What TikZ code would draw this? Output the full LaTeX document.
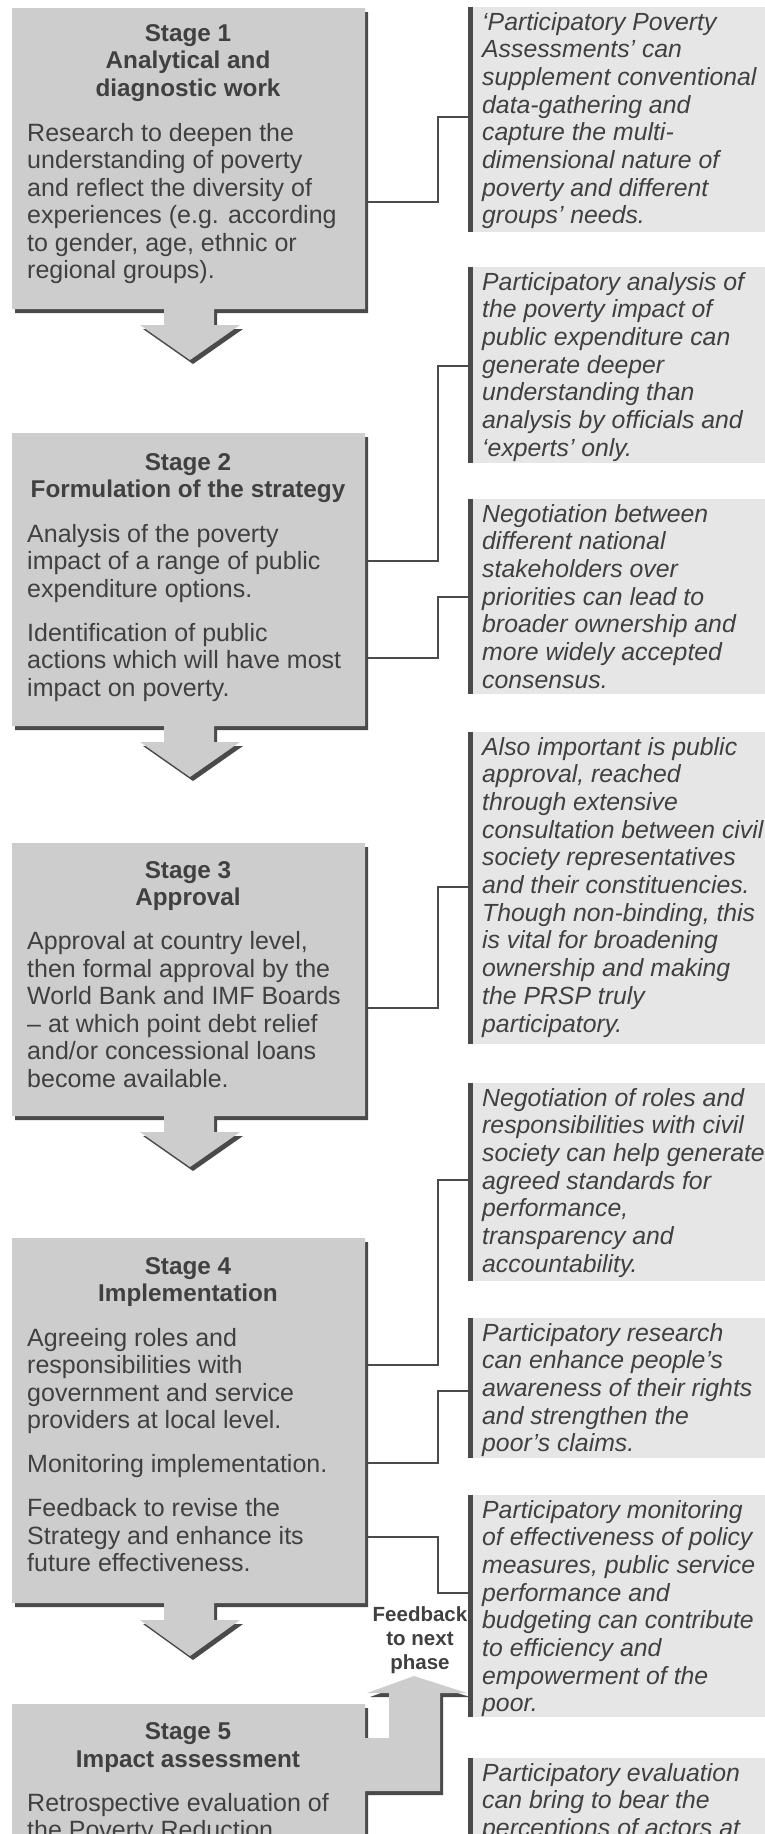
\documentclass[tikz,border=0pt]{standalone}
\usepackage{fontspec}
\setmainfont{Liberation Sans}
\definecolor{stagefill}{HTML}{CDCDCD}
\definecolor{notefill}{HTML}{E6E6E6}
\definecolor{shade}{HTML}{4A4A4A}
\definecolor{ink}{HTML}{404040}
\tikzset{
  stageshape/.style={fill=stagefill, preaction={fill=shade, transform canvas={shift={(3pt,-4pt)}}}},
  stagetitle/.style={font=\bfseries\fontsize{24.3}{27.5}\selectfont, text=ink, align=center, inner sep=0pt, anchor=base},
  stagebody/.style={font=\fontsize{25}{27.5}\selectfont, text=ink, align=left, inner sep=0pt, anchor=base west},
  notetext/.style={font=\itshape\fontsize{24.8}{27.7}\selectfont, text=ink, align=left, inner sep=0pt, anchor=base west},
  fbtext/.style={font=\bfseries\fontsize{20.5}{24}\selectfont, text=ink, align=center, inner sep=0pt, anchor=base},
  notebar/.style={fill=shade, draw=none, inner sep=0pt, minimum width=5pt, anchor=north west},
  notebg/.style={fill=notefill, draw=none, inner sep=0pt, minimum width=292pt, anchor=north west},
  conn/.style={draw=shade, line width=2.3pt},
}
\begin{document}
\begin{tikzpicture}[x=1pt,y=-1pt]
\useasboundingbox (0,0) rectangle (765,1834);
\begin{scope}
\clip (0,0) rectangle (765,1834);
\fill[white] (0,0) rectangle (765,1834);

% ---------- stage shapes (box + arrow) ----------
\path[stageshape] (12,8) -- (365,8) -- (365,309) -- (214,309) -- (214,325) -- (240,325) -- (190,360) -- (140,325) -- (164,325) -- (164,309) -- (12,309) -- cycle;
\path[stageshape] (12,433) -- (365,433) -- (365,726) -- (214,726) -- (214,742) -- (240,742) -- (190,777) -- (140,742) -- (164,742) -- (164,726) -- (12,726) -- cycle;
\path[stageshape] (12,843) -- (365,843) -- (365,1116) -- (214,1116) -- (214,1132) -- (240,1132) -- (190,1167) -- (140,1132) -- (164,1132) -- (164,1116) -- (12,1116) -- cycle;
\path[stageshape] (12,1238) -- (365,1238) -- (365,1603) -- (214,1603) -- (214,1620) -- (240,1620) -- (190,1656) -- (140,1620) -- (164,1620) -- (164,1603) -- (12,1603) -- cycle;
\path[stageshape] (12,1704) -- (365,1704) -- (365,1738) -- (389,1738) -- (389,1693) -- (367,1693) -- (414,1676) -- (467,1693) -- (440,1693) -- (440,1791) -- (365,1791) -- (365,1860) -- (12,1860) -- cycle;

% ---------- stage texts (anchored at the baseline of the last line) ----------
\node[stagetitle] (t1) at (188,96) {Stage 1\\Analytical and\\diagnostic work};
\node[stagebody] (p1) at (27,278.5) {Research to deepen the\\understanding of poverty\\and reflect the diversity of\\experiences (e.g. according\\to gender, age, ethnic or\\regional groups).};

\node[stagetitle] (t2) at (188,497.5) {Stage 2\\Formulation of the strategy};
\node[stagebody] (p2) at (27,696) {Analysis of the poverty\\impact of a range of public\\expenditure options.\\[16.5pt]Identification of public\\actions which will have most\\impact on poverty.};

\node[stagetitle] (t3) at (188,905.5) {Stage 3\\Approval};
\node[stagebody] (p3) at (27,1087) {Approval at country level,\\then formal approval by the\\World Bank and IMF Boards\\– at which point debt relief\\and/or concessional loans\\become available.};

\node[stagetitle] (t4) at (188,1301.5) {Stage 4\\Implementation};
\node[stagebody] (p4) at (27,1571.5) {Agreeing roles and\\responsibilities with\\government and service\\providers at local level.\\[16.5pt]Monitoring implementation.\\[16.5pt]Feedback to revise the\\Strategy and enhance its\\future effectiveness.};

\node[stagetitle] (t5) at (188,1767) {Stage 5\\Impact assessment};
\node[stagebody] (p5) at (27,1838.5) {Retrospective evaluation of\\the Poverty Reduction};

\node[fbtext] (fb) at (420,1669) {Feedback\\to next\\phase};

% ---------- note boxes ----------
\node[notebg, minimum height=225pt] (g1) at (473,7) {};
\node[notebar, minimum height=225pt] (bar1) at (468,7) {};
\node[notebg, minimum height=196pt] (g2) at (473,267) {};
\node[notebar, minimum height=196pt] (bar2) at (468,267) {};
\node[notebg, minimum height=195pt] (g3) at (473,499) {};
\node[notebar, minimum height=195pt] (bar3) at (468,499) {};
\node[notebg, minimum height=312pt] (g4) at (473,732) {};
\node[notebar, minimum height=312pt] (bar4) at (468,732) {};
\node[notebg, minimum height=198pt] (g5) at (473,1083) {};
\node[notebar, minimum height=198pt] (bar5) at (468,1083) {};
\node[notebg, minimum height=140pt] (g6) at (473,1318) {};
\node[notebar, minimum height=140pt] (bar6) at (468,1318) {};
\node[notebg, minimum height=222pt] (g7) at (473,1495) {};
\node[notebar, minimum height=222pt] (bar7) at (468,1495) {};
\node[notebg, minimum height=100pt] (g8) at (473,1758) {};
\node[notebar, minimum height=100pt] (bar8) at (468,1758) {};

\node[notetext] (n1) at (482,223.9) {‘Participatory Poverty\\Assessments’ can\\supplement conventional\\data-gathering and\\capture the multi-\\dimensional nature of\\poverty and different\\groups’ needs.};
\node[notetext] (n2) at (482,456.2) {Participatory analysis of\\the poverty impact of\\public expenditure can\\generate deeper\\understanding than\\analysis by officials and\\‘experts’ only.};
\node[notetext] (n3) at (482,688.2) {Negotiation between\\different national\\stakeholders over\\priorities can lead to\\broader ownership and\\more widely accepted\\consensus.};
\node[notetext] (n4) at (482,1032) {Also important is public\\approval, reached\\through extensive\\consultation between civil\\society representatives\\and their constituencies.\\Though non-binding, this\\is vital for broadening\\ownership and making\\the PRSP truly\\participatory.};
\node[notetext] (n5) at (482,1272.2) {Negotiation of roles and\\responsibilities with civil\\society can help generate\\agreed standards for\\performance,\\transparency and\\accountability.};
\node[notetext] (n6) at (482,1451.8) {Participatory research\\can enhance people’s\\awareness of their rights\\and strengthen the\\poor’s claims.};
\node[notetext] (n7) at (482,1711.9) {Participatory monitoring\\of effectiveness of policy\\measures, public service\\performance and\\budgeting can contribute\\to efficiency and\\empowerment of the\\poor.};
\node[notetext] (n8) at (482,1836.4) {Participatory evaluation\\can bring to bear the\\perceptions of actors at};

% ---------- connectors ----------
\coordinate (s1a) at (366,202);  \coordinate (e1) at (470,117);
\coordinate (s2a) at (366,561);  \coordinate (e2) at (470,366);
\coordinate (s2b) at (366,658);  \coordinate (e3) at (470,597);
\coordinate (s3a) at (366,1008); \coordinate (e4) at (470,887);
\coordinate (s4a) at (366,1365); \coordinate (e5) at (470,1180);
\coordinate (s4b) at (366,1463); \coordinate (e6) at (470,1391);
\coordinate (s4c) at (366,1537); \coordinate (e7) at (470,1593);
\draw[conn] (s1a) -- ++(72,0) |- (e1);
\draw[conn] (s2a) -- ++(72,0) |- (e2);
\draw[conn] (s2b) -- ++(72,0) |- (e3);
\draw[conn] (s3a) -- ++(72,0) |- (e4);
\draw[conn] (s4a) -- ++(72,0) |- (e5);
\draw[conn] (s4b) -- ++(72,0) |- (e6);
\draw[conn] (s4c) -- ++(72,0) |- (e7);
\end{scope}
\end{tikzpicture}
\end{document}
